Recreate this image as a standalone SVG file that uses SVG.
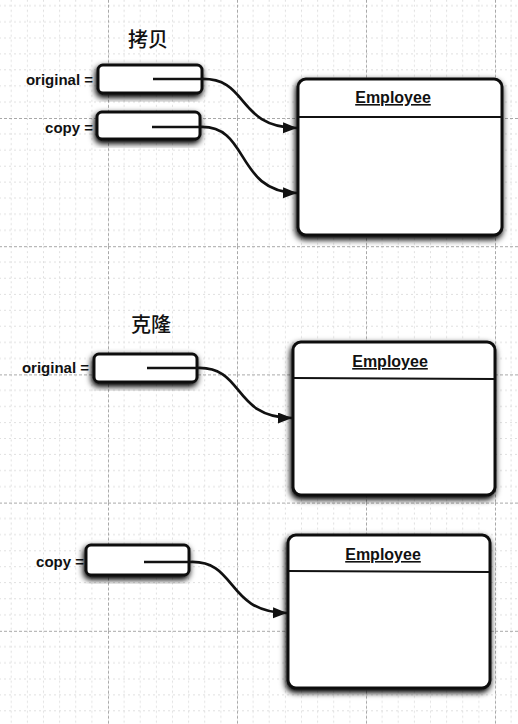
<svg xmlns="http://www.w3.org/2000/svg" width="518" height="724" viewBox="0 0 518 724">
<style>
.lbl{font-family:"Liberation Sans",Arial,sans-serif;font-weight:bold;font-size:15px;fill:#111;text-anchor:end}
.title{font-family:"Noto Sans CJK SC","Noto Sans CJK JP",sans-serif;font-weight:500;font-size:20px;fill:#111;text-anchor:middle}
.cls{font-family:"Liberation Sans",Arial,sans-serif;font-weight:bold;font-size:16px;fill:#111;text-anchor:middle;text-decoration:underline}
.ref{fill:#fff;stroke:#111;stroke-width:3}
.obj{fill:#fff;stroke:#111;stroke-width:3}
.div{stroke:#111;stroke-width:2}
.con{fill:none;stroke:#111;stroke-width:2.7}
.gmin{stroke:#e0e0e0;stroke-width:1;stroke-dasharray:2 3}
.gmaj{stroke:#a8a8a8;stroke-width:1;stroke-dasharray:3 2}
</style>
<defs>
<pattern id="grid" patternUnits="userSpaceOnUse" x="108" y="118" width="129" height="128.2">
<g class="gmin">
<line x1="16.1" y1="0" x2="16.1" y2="128.2"/><line x1="32.2" y1="0" x2="32.2" y2="128.2"/><line x1="48.4" y1="0" x2="48.4" y2="128.2"/><line x1="64.5" y1="0" x2="64.5" y2="128.2"/><line x1="80.6" y1="0" x2="80.6" y2="128.2"/><line x1="96.7" y1="0" x2="96.7" y2="128.2"/><line x1="112.9" y1="0" x2="112.9" y2="128.2"/>
<line x1="0" y1="16" x2="129" y2="16"/><line x1="0" y1="32" x2="129" y2="32"/><line x1="0" y1="48.1" x2="129" y2="48.1"/><line x1="0" y1="64.1" x2="129" y2="64.1"/><line x1="0" y1="80.1" x2="129" y2="80.1"/><line x1="0" y1="96.1" x2="129" y2="96.1"/><line x1="0" y1="112.2" x2="129" y2="112.2"/>
</g>
<g class="gmaj"><line x1="0.5" y1="0" x2="0.5" y2="128.2"/><line x1="0" y1="0.5" x2="129" y2="0.5"/></g>
</pattern>
<filter id="sh" x="-20%" y="-30%" width="140%" height="160%">
<feGaussianBlur in="SourceAlpha" stdDeviation="3.2"/>
<feOffset dx="-1" dy="3" result="b"/>
<feComponentTransfer><feFuncA type="linear" slope="1.1"/></feComponentTransfer>
<feMerge><feMergeNode/><feMergeNode in="SourceGraphic"/></feMerge>
</filter>
<marker id="ah" markerWidth="16" markerHeight="13" refX="14" refY="5.5" orient="auto" markerUnits="userSpaceOnUse">
<path d="M0,0 L14,5.5 L0,11 Z" fill="#111"/>
</marker>
</defs>
<rect width="518" height="724" fill="#fff"/>
<rect width="518" height="724" fill="url(#grid)"/>

<g id="title-copy"><text class="title" x="148" y="47">拷贝</text></g>
<g id="title-clone"><text class="title" x="151" y="332">克隆</text></g>

<g id="ref-original-1">
<text class="lbl" x="93" y="85">original =</text>
<rect class="ref" x="98" y="65" width="104" height="28" rx="5" filter="url(#sh)"/>
</g>
<g id="ref-copy-1">
<text class="lbl" x="93" y="133">copy =</text>
<rect class="ref" x="97" y="112" width="103" height="27" rx="5" filter="url(#sh)"/>
</g>
<g id="employee-1">
<rect class="obj" x="298" y="79" width="204" height="156" rx="8" filter="url(#sh)"/>
<line class="div" x1="299" y1="117" x2="501" y2="117"/>
<text class="cls" x="393" y="103">Employee</text>
</g>

<g id="ref-original-2">
<text class="lbl" x="89" y="373">original =</text>
<rect class="ref" x="94" y="354" width="103" height="28" rx="5" filter="url(#sh)"/>
</g>
<g id="employee-2">
<rect class="obj" x="293" y="342" width="202" height="153" rx="8" filter="url(#sh)"/>
<line class="div" x1="294" y1="378" x2="494" y2="379"/>
<text class="cls" x="390" y="367">Employee</text>
</g>

<g id="ref-copy-2">
<text class="lbl" x="84" y="567">copy =</text>
<rect class="ref" x="86" y="545" width="103" height="30" rx="5" filter="url(#sh)"/>
</g>
<g id="employee-3">
<rect class="obj" x="288" y="535" width="202" height="153" rx="8" filter="url(#sh)"/>
<line class="div" x1="289" y1="571" x2="489" y2="572"/>
<text class="cls" x="383" y="560">Employee</text>
</g>

<g id="connectors">
<path class="con" marker-end="url(#ah)" d="M153,79 H200 C250,77 235,127 297,128"/>
<path class="con" marker-end="url(#ah)" d="M152,127 H200 C250,125 235,192 297,193"/>
<path class="con" marker-end="url(#ah)" d="M147,368 H197 C245,366 232,418 292,418"/>
<path class="con" marker-end="url(#ah)" d="M144,562 H190 C238,560 225,612 287,613"/>
</g>
</svg>
